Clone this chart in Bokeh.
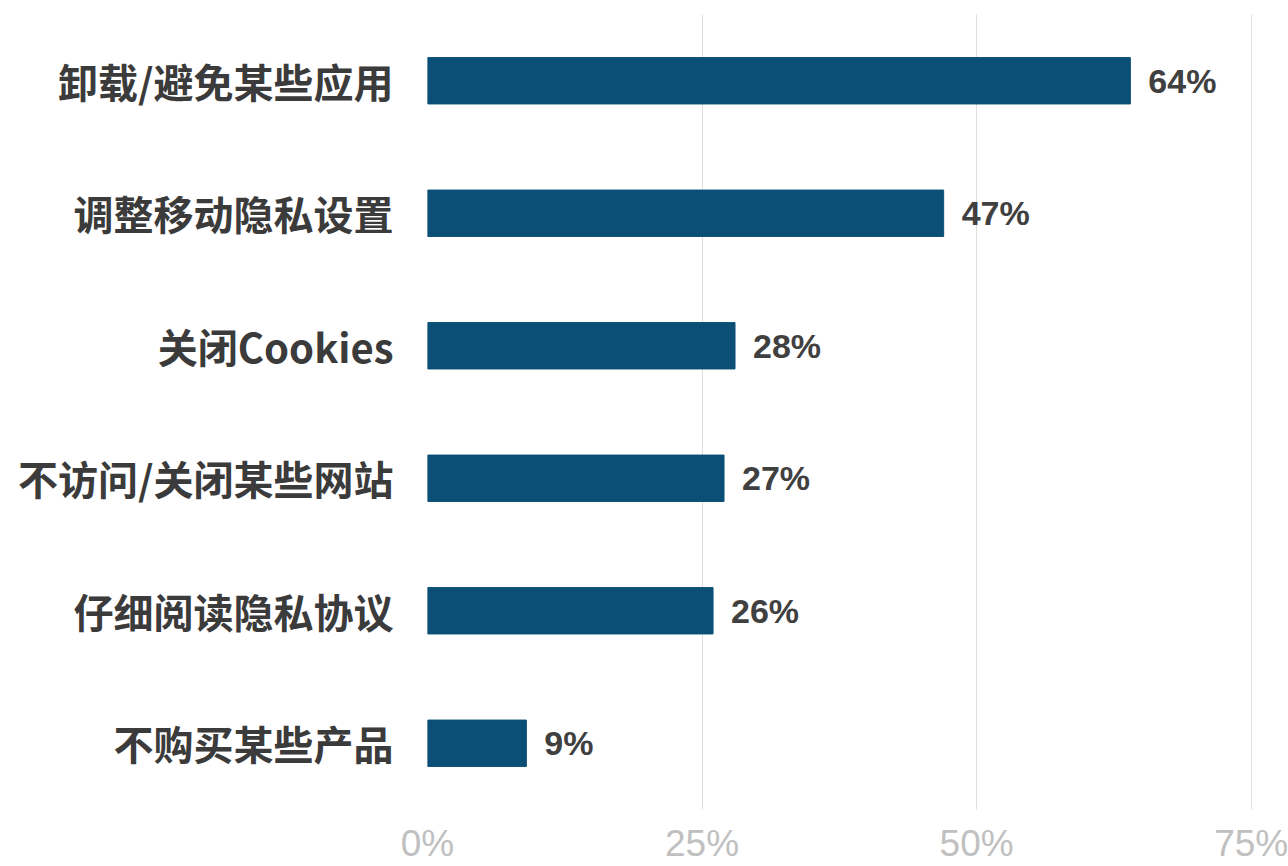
from bokeh.plotting import figure
from bokeh.models import Range1d, FactorRange, FixedTicker, CustomJSTickFormatter
from bokeh.core.properties import value
from bokeh.embed import file_html
from bokeh.resources import INLINE

categories = ["卸载/避免某些应用", "调整移动隐私设置", "关闭Cookies",
              "不访问/关闭某些网站", "仔细阅读隐私协议", "不购买某些产品"]
values = [64, 47, 28, 27, 26, 9]
x_ticks = [0, 25, 50, 75]

bar_color = "#0b4f77"
label_color = "#3b3b3b"

cats_rev = list(reversed(categories))
p = figure(
    y_range=FactorRange(factors=cats_rev),
    x_range=Range1d(0, 78.4),
    width=1288, height=866,
    min_border_left=427, min_border_right=0,
    min_border_top=14, min_border_bottom=0,
    output_backend="svg", toolbar_location=None,
)
p.outline_line_color = None
p.background_fill_color = "white"
p.border_fill_color = "white"

p.hbar(y=categories, right=values, left=0, height=0.35, color=bar_color)
p.text(x=values, y=categories, text=[f"{v}%" for v in values],
       x_offset=18, text_baseline="middle", text_align="left",
       text_font=value("Liberation Sans"), text_font_style="bold",
       text_font_size="34px", text_color="#404040")

# x axis
p.xaxis.ticker = FixedTicker(ticks=x_ticks)
p.xaxis.formatter = CustomJSTickFormatter(code="return tick + '%';")
p.xaxis.axis_line_color = None
p.xaxis.major_tick_line_color = None
p.xaxis.minor_tick_line_color = None
p.xaxis.major_tick_out = 0
p.xaxis.major_tick_in = 0
p.xaxis.major_label_standoff = 13
p.xaxis.major_label_text_font = "Liberation Sans"
p.xaxis.major_label_text_font_size = "37px"
p.xaxis.major_label_text_color = "#c0c0c0"

p.xgrid.ticker = FixedTicker(ticks=x_ticks)
p.xgrid.grid_line_color = "#dedede"
p.xgrid.grid_line_width = 1
p.ygrid.grid_line_color = None

# y axis
p.yaxis.axis_line_color = None
p.yaxis.major_tick_line_color = None
p.yaxis.minor_tick_line_color = None
p.yaxis.major_tick_out = 0
p.yaxis.major_tick_in = 0
p.yaxis.major_label_standoff = 34
p.yaxis.major_label_text_font = "Noto Sans CJK SC"
p.yaxis.major_label_text_font_style = "bold"
p.yaxis.major_label_text_font_size = "40px"
p.yaxis.major_label_text_color = label_color

open("out.html", "w").write(file_html(p, INLINE))
